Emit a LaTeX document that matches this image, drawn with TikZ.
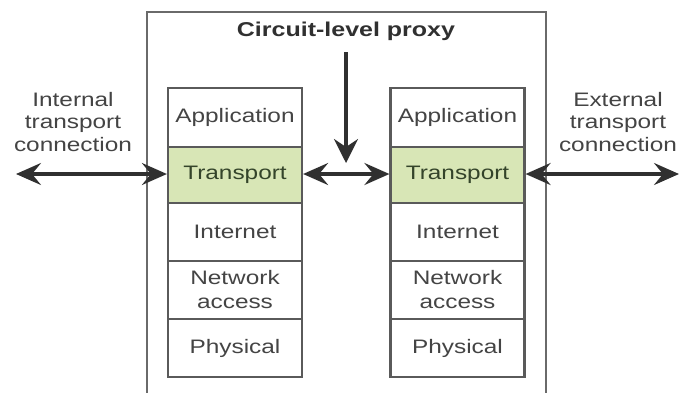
\documentclass[tikz,border=0pt]{standalone}
\usepackage{fontspec}
\usetikzlibrary{arrows.meta}
\newfontfamily\labfont[FakeStretch=1.25]{Liberation Sans}
\definecolor{layerline}{HTML}{5A5A5A}
\definecolor{boxline}{HTML}{6A6A6A}
\definecolor{txt}{HTML}{444444}
\definecolor{transfill}{HTML}{D8E6B6}
\definecolor{transtxt}{HTML}{34442A}
\definecolor{arrowcol}{HTML}{303030}
\begin{document}
\begin{tikzpicture}[x=1pt, y=-1pt,
  layer/.style={draw=layerline, line width=2.2pt, fill=white, inner sep=0pt,
    minimum width=134pt, text=txt, align=center,
    font=\labfont\fontsize{19.5}{24}\selectfont},
  translayer/.style={layer, fill=transfill, text=transtxt},
  sidelabel/.style={text=txt, align=center, inner sep=0pt,
    font=\labfont\fontsize{19.5}{22.5}\selectfont},
  titlelabel/.style={text=arrowcol, inner sep=0pt,
    font=\labfont\bfseries\fontsize{20}{24}\selectfont},
  arr/.style={draw=arrowcol, line width=3.2pt,
    {Stealth[length=25pt,width=22pt,inset=9pt]}-{Stealth[length=25pt,width=22pt,inset=9pt]}},
  darr/.style={draw=arrowcol, line width=3.2pt,
    -{Stealth[length=24pt,width=24pt,inset=8pt]}}
]
\useasboundingbox (0,0) rectangle (679,392);
\fill[white] (0,0) rectangle (679,392);

% proxy enclosure (runs past the lower edge)
\draw[boxline, line width=2pt] (147,400) -- (147,12) -- (546,12) -- (546,400);
\node[titlelabel] (title) at (346,31) {Circuit-level proxy};

% left protocol stack
\node[layer, minimum height=59pt] (lapp) at (235,117.5) {Application};
\node[translayer, minimum height=56pt] (ltr) at (235,175) {Transport};
\node[layer, minimum height=58pt] (lint) at (235,232) {Internet};
\node[layer, minimum height=58pt] (lnet) at (235,290) {Network\\access};
\node[layer, minimum height=58pt] (lphy) at (235,348) {Physical};

% right protocol stack
\node[layer, minimum height=59pt] (rapp) at (457.5,117.5) {Application};
\node[translayer, minimum height=56pt] (rtr) at (457.5,175) {Transport};
\node[layer, minimum height=58pt] (rint) at (457.5,232) {Internet};
\node[layer, minimum height=58pt] (rnet) at (457.5,290) {Network\\access};
\node[layer, minimum height=58pt] (rphy) at (457.5,348) {Physical};

% side labels
\node[sidelabel] (inlab) at (73,122) {Internal\\transport\\connection};
\node[sidelabel] (exlab) at (618,122) {External\\transport\\connection};

% transport connections
\coordinate (lend) at (16,174);
\coordinate (rend) at (679,174);
\coordinate (dtop) at (346,52);
\coordinate (dtip) at (346,163);
\draw[arr] (lend) -- (ltr.west |- lend);
\draw[arr] (ltr.east |- lend) -- (rtr.west |- lend);
\draw[arr] (rtr.east |- rend) -- (rend);
\draw[darr] (dtop) -- (dtip);
\end{tikzpicture}
\end{document}
